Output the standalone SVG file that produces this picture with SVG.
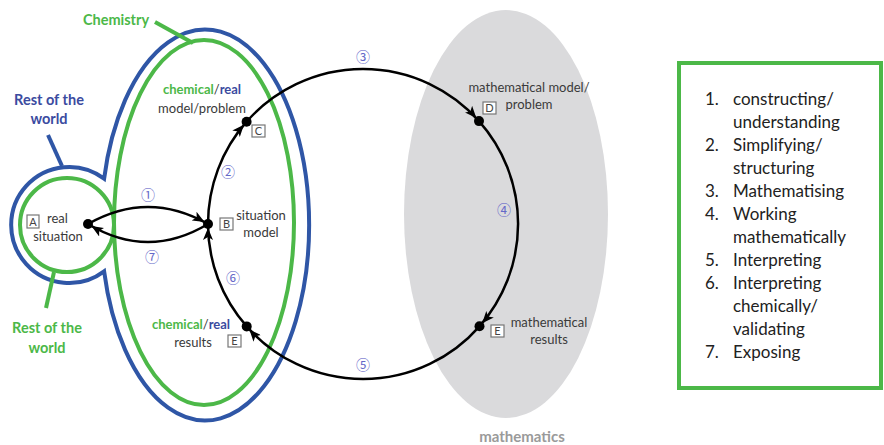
<svg xmlns="http://www.w3.org/2000/svg" width="884" height="445" viewBox="0 0 884 445">
<style>
  .lbl { font-family: Lato, "Liberation Sans", sans-serif; font-size: 13px; fill: #3a3a3a; }
  .lg { font-family: Lato, "Liberation Sans", sans-serif; font-size: 17px; fill: #222; }
  .grn { fill: #4cb848; font-weight: bold; }
  .blu { fill: #3b4b9f; font-weight: bold; }
  .num { font-family: "Noto Sans CJK SC", "DejaVu Sans", sans-serif; font-size: 14px; fill: #6468c8; text-anchor: middle; }
  .box { fill: #fff; stroke: #777; stroke-width: 1.2; }
  .let { font-family: Lato, "Liberation Sans", sans-serif; font-size: 11px; fill: #444; text-anchor: middle; }
  .arc { fill: none; stroke: #000; stroke-width: 2.5; marker-end: url(#ah); }
  .dot { fill: #000; }
</style>
<defs>
  <marker id="ah" viewBox="0 0 12 10" refX="16" refY="5" markerWidth="12" markerHeight="10" markerUnits="userSpaceOnUse" orient="auto">
    <path d="M0,0 L12,5 L0,10 L3,5 Z" fill="#000"/>
  </marker>
</defs>

<g id="mathematics">
  <ellipse cx="506" cy="214" rx="102" ry="204" fill="#dadadc"/>
  <text x="522" y="442" text-anchor="middle" style="font-family: Lato, 'Liberation Sans', sans-serif; font-size: 15px; font-weight: bold; fill: #9a9a9a;">mathematics</text>
</g>

<g id="rest-of-world">
  <path d="M104.1,178.7 A104,195.5 0 1 1 104.1,271.3 A58,58 0 1 1 104.1,178.7 Z" fill="none" stroke="#2f56a6" stroke-width="4"/>
  <line x1="48" y1="135" x2="62" y2="166" stroke="#2f56a6" stroke-width="4"/>
  <text x="49" y="105" text-anchor="middle" class="lbl blu" style="font-size:14.5px">Rest of the</text>
  <text x="49" y="124" text-anchor="middle" class="lbl blu" style="font-size:14.5px">world</text>
</g>

<g id="chemistry">
  <ellipse cx="204" cy="222.5" rx="90" ry="182.5" fill="none" stroke="#4cb848" stroke-width="4"/>
  <line x1="155" y1="22" x2="193" y2="43" stroke="#4cb848" stroke-width="4"/>
  <text x="116" y="25" text-anchor="middle" class="lbl grn" style="font-size:14.5px">Chemistry</text>
</g>

<g id="rest-of-world-green">
  <circle cx="67" cy="225" r="47" fill="none" stroke="#4cb848" stroke-width="4"/>
  <line x1="54" y1="272" x2="46" y2="308" stroke="#4cb848" stroke-width="4"/>
  <text x="47" y="333" text-anchor="middle" class="lbl grn" style="font-size:14.5px">Rest of the</text>
  <text x="47" y="353" text-anchor="middle" class="lbl grn" style="font-size:14.5px">world</text>
</g>

<g id="connectors">
  <path class="arc" d="M88,224 Q148,190 208,224"/>
  <path class="arc" d="M208,224 Q148,260 88,224"/>
  <path class="arc" d="M208,224 A155,155 0 0 1 246.6,121.7"/>
  <path class="arc" d="M246.6,121.7 A155,155 0 0 1 479,121.1"/>
  <path class="arc" d="M479,121.1 A155,155 0 0 1 479.5,326.3"/>
  <path class="arc" d="M479.5,326.3 A155,155 0 0 1 246.7,326.4"/>
  <path class="arc" d="M246.7,326.4 A155,155 0 0 1 208,224"/>
  <text class="num" x="148" y="200">①</text>
  <text class="num" x="228" y="177">②</text>
  <text class="num" x="363" y="62">③</text>
  <text class="num" x="504" y="215">④</text>
  <text class="num" x="363" y="370">⑤</text>
  <text class="num" x="233" y="283">⑥</text>
  <text class="num" x="152" y="262">⑦</text>
</g>

<g id="node-A">
  <circle class="dot" cx="88" cy="224" r="5"/>
  <rect class="box" x="27" y="215" width="12" height="13"/>
  <text class="let" x="33" y="225.5">A</text>
  <text class="lbl" x="47" y="223">real</text>
  <text class="lbl" x="58" y="241" text-anchor="middle">situation</text>
</g>

<g id="node-B">
  <circle class="dot" cx="208" cy="224" r="5"/>
  <rect class="box" x="220" y="218" width="13" height="12"/>
  <text class="let" x="226.5" y="228">B</text>
  <text class="lbl" x="261" y="220" text-anchor="middle">situation</text>
  <text class="lbl" x="261" y="237" text-anchor="middle">model</text>
</g>

<g id="node-C">
  <circle class="dot" cx="246.6" cy="121.7" r="5"/>
  <rect class="box" x="252" y="125" width="13" height="12"/>
  <text class="let" x="258.5" y="135">C</text>
  <text class="lbl" x="202" y="94" text-anchor="middle"><tspan class="grn">chemical</tspan>/<tspan class="blu">real</tspan></text>
  <text class="lbl" x="202" y="113" text-anchor="middle">model/problem</text>
</g>

<g id="node-D">
  <circle class="dot" cx="479" cy="121.1" r="5"/>
  <rect class="box" x="483" y="102" width="13" height="12"/>
  <text class="let" x="489.5" y="112">D</text>
  <text class="lbl" x="529" y="92" text-anchor="middle">mathematical model/</text>
  <text class="lbl" x="529" y="109" text-anchor="middle">problem</text>
</g>

<g id="node-E-math">
  <circle class="dot" cx="479.5" cy="326.3" r="5"/>
  <rect class="box" x="491" y="325" width="13" height="12"/>
  <text class="let" x="497.5" y="335">E</text>
  <text class="lbl" x="549" y="327" text-anchor="middle">mathematical</text>
  <text class="lbl" x="549" y="344" text-anchor="middle">results</text>
</g>

<g id="node-E-chem">
  <circle class="dot" cx="246.7" cy="326.4" r="5"/>
  <rect class="box" x="228" y="335" width="13" height="12"/>
  <text class="let" x="234.5" y="345">E</text>
  <text class="lbl" x="191" y="329" text-anchor="middle"><tspan class="grn">chemical</tspan>/<tspan class="blu">real</tspan></text>
  <text class="lbl" x="193" y="347" text-anchor="middle">results</text>
</g>

<g id="legend">
  <rect x="679" y="63" width="202" height="325" fill="#fff" stroke="#4cb848" stroke-width="4"/>
  <text class="lg" x="705" y="105">1.</text><text class="lg" x="733" y="105">constructing/</text>
  <text class="lg" x="733" y="128">understanding</text>
  <text class="lg" x="705" y="151">2.</text><text class="lg" x="733" y="151">Simplifying/</text>
  <text class="lg" x="733" y="174">structuring</text>
  <text class="lg" x="705" y="197">3.</text><text class="lg" x="733" y="197">Mathematising</text>
  <text class="lg" x="705" y="220">4.</text><text class="lg" x="733" y="220">Working</text>
  <text class="lg" x="733" y="243">mathematically</text>
  <text class="lg" x="705" y="266">5.</text><text class="lg" x="733" y="266">Interpreting</text>
  <text class="lg" x="705" y="289">6.</text><text class="lg" x="733" y="289">Interpreting</text>
  <text class="lg" x="733" y="312">chemically/</text>
  <text class="lg" x="733" y="335">validating</text>
  <text class="lg" x="705" y="358">7.</text><text class="lg" x="733" y="358">Exposing</text>
</g>
</svg>
